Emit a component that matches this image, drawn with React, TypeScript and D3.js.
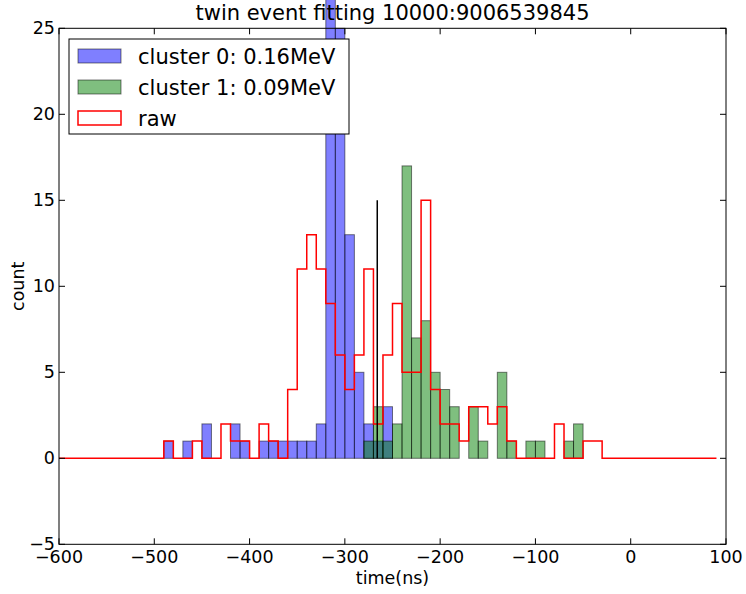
import * as d3 from 'd3';

// histogram counts, 10 ns bins, listed from the first bin's left edge
const binWidth = 10;
const cluster0Start = -490;
const cluster0Counts = [1, 0, 1, 0, 2, 0, 0, 2, 1, 0, 1, 1, 1, 1, 1, 1, 2, 28, 25, 13, 5, 2, 1, 3, 0];
const cluster1Start = -280;
const cluster1Counts = [1, 3, 1, 2, 17, 7, 8, 5, 4, 3, 0, 3, 1, 0, 5, 1, 0, 1, 1, 0, 0, 1, 2, 0];
const rawStart = -600;
const rawCounts = [
  0, 0, 0, 0, 0, 0, 0, 0, 0, 0, 0,
  1, 0, 0, 1, 0, 0, 2, 1, 1, 0, 2, 1, 0, 4, 11, 13, 11, 9, 6, 4,
  6, 11, 2, 6, 9, 5, 5, 15, 4, 2, 2, 1, 3, 3, 2, 3, 1, 0, 0, 0,
  0, 2, 0, 0, 1, 1, 0, 0, 0, 0, 0, 0, 0, 0, 0, 0, 0, 0,
];
const markerTime = -266;
const markerCount = 15;

const legendLabels = ['cluster 0: 0.16MeV', 'cluster 1: 0.09MeV', 'raw'];
const xTicks = [-600, -500, -400, -300, -200, -100, 0, 100];
const yTicks = [-5, 0, 5, 10, 15, 20, 25];
const title = 'twin event fitting 10000:9006539845';

const W = 746;
const H = 594;
const L = 59, R = 726, T = 28.3, B = 544.3;
const font = 'DejaVu Sans, sans-serif';

const fmt = (v: number) => (v < 0 ? '\u2212' + Math.abs(v) : String(v));

export default function App() {
  const x = d3.scaleLinear().domain([-600, 100]).range([L, R]);
  const y = d3.scaleLinear().domain([-5, 25]).range([B, T]);

  const bars = (start: number, counts: number[], color: string, key: string) =>
    counts.map((c, i) => {
      const x0 = x(start + i * binWidth);
      const x1 = x(start + (i + 1) * binWidth);
      const top = y(c);
      return (
        <rect
          key={key + i}
          x={x0}
          y={top}
          width={x1 - x0}
          height={y(0) - top}
          fill={color}
          fillOpacity={0.5}
          stroke="#000"
          strokeOpacity={0.5}
          strokeWidth={1}
        />
      );
    });

  // step outline for the raw histogram
  let rawPath = `M${x(rawStart)},${y(0)}`;
  rawCounts.forEach((c, i) => {
    rawPath += `L${x(rawStart + i * binWidth)},${y(c)}L${x(rawStart + (i + 1) * binWidth)},${y(c)}`;
  });
  rawPath += `L${x(rawStart + rawCounts.length * binWidth)},${y(0)}`;

  const tickLen = 6;

  return (
    <div style={{ position: 'fixed', left: 0, top: 0 }}>
      <svg width={W} height={H} style={{ display: 'block', background: '#fff' }} fontFamily={font}>
        {bars(cluster0Start, cluster0Counts, '#0000ff', 'c0')}
        {bars(cluster1Start, cluster1Counts, '#008000', 'c1')}
        <path d={rawPath} fill="none" stroke="#ff0000" strokeWidth={1.5} />
        <line x1={x(markerTime)} x2={x(markerTime)} y1={y(0)} y2={y(markerCount)} stroke="#000" strokeWidth={1.5} />

        {/* frame */}
        <rect x={L} y={T} width={R - L} height={B - T} fill="none" stroke="#000" strokeWidth={1} />

        {/* ticks */}
        {xTicks.map((t) => (
          <g key={'xt' + t}>
            <line x1={x(t)} x2={x(t)} y1={B} y2={B - tickLen} stroke="#000" />
            <line x1={x(t)} x2={x(t)} y1={T} y2={T + tickLen} stroke="#000" />
            <text x={x(t)} y={B + 19} fontSize={17.5} textAnchor="middle">{fmt(t)}</text>
          </g>
        ))}
        {yTicks.map((t) => (
          <g key={'yt' + t}>
            <line x1={L} x2={L + tickLen} y1={y(t)} y2={y(t)} stroke="#000" />
            <line x1={R} x2={R - tickLen} y1={y(t)} y2={y(t)} stroke="#000" />
            <text x={L - 4} y={y(t) + 6} fontSize={17.5} textAnchor="end">{fmt(t)}</text>
          </g>
        ))}

        <text x={(L + R) / 2} y={20} fontSize={21} textAnchor="middle">{title}</text>
        <text x={(L + R) / 2} y={584} fontSize={17.5} textAnchor="middle">time(ns)</text>
        <text transform={`translate(24,${(T + B) / 2}) rotate(-90)`} fontSize={17.5} textAnchor="middle">count</text>

        {/* legend */}
        <g>
          <rect x={69} y={39} width={280} height={95} fill="#fff" stroke="#000" strokeWidth={1} />
          {legendLabels.map((lab, i) => {
            const cy = 56 + i * 31;
            const isRaw = i === 2;
            return (
              <g key={lab}>
                <rect
                  x={78}
                  y={cy - 7}
                  width={43}
                  height={14}
                  fill={isRaw ? 'none' : i === 0 ? '#0000ff' : '#008000'}
                  fillOpacity={0.5}
                  stroke={isRaw ? '#ff0000' : '#000'}
                  strokeOpacity={isRaw ? 1 : 0.5}
                  strokeWidth={isRaw ? 1.5 : 1}
                />
                <text x={138} y={cy + 7.5} fontSize={21}>{lab}</text>
              </g>
            );
          })}
        </g>
      </svg>
    </div>
  );
}
